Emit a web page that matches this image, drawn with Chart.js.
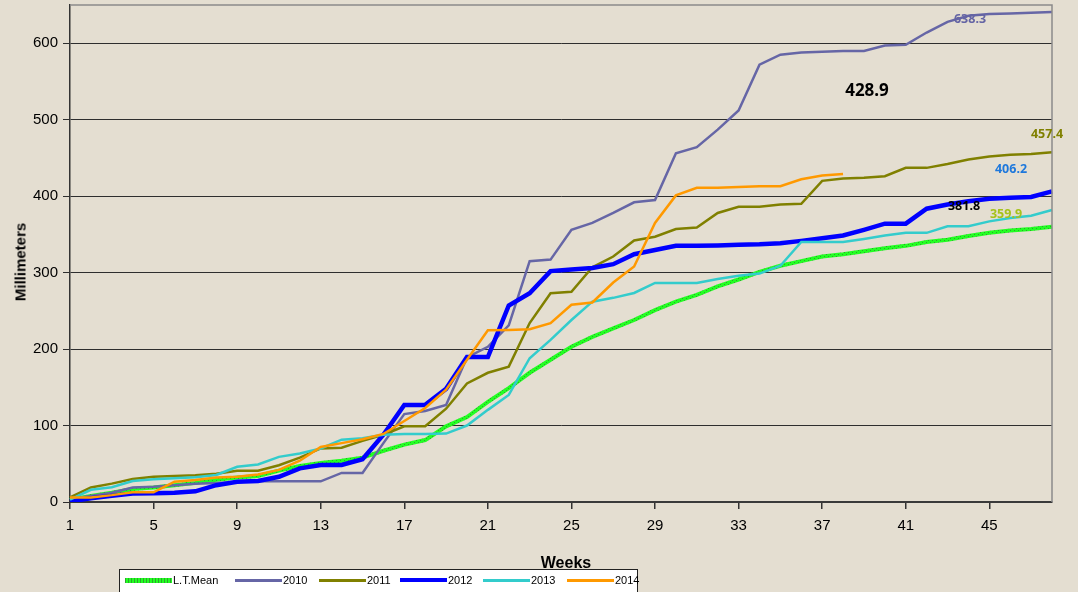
<!DOCTYPE html>
<html><head><meta charset="utf-8">
<script src="https://cdn.jsdelivr.net/npm/chart.js@4.4.0/dist/chart.umd.min.js"></script>
<style>
html,body{margin:0;padding:0;background:#e4ded1;}
#wrap{position:relative;width:1078px;height:592px;overflow:hidden;background:#e4ded1;font-family:"Liberation Sans",Arial,sans-serif;}
#c{position:absolute;left:0;top:0;}
.t{position:absolute;white-space:nowrap;transform:translate(-50%,-50%);}
.dl{font-family:"Noto Sans","Open Sans",sans-serif;font-weight:bold;font-size:12.5px;line-height:1;}
#legend{position:absolute;left:119px;top:569px;width:519px;height:28px;background:#fff;border:1.5px solid #222;box-sizing:border-box;font-size:11px;color:#000;}
.li{position:absolute;top:3px;display:flex;align-items:center;height:14px;}
.sw{width:47px;margin-right:1px;}
</style></head>
<body><div id="wrap">
<canvas id="c" width="1078" height="592"></canvas>
<div class="t" style="left:20px;top:262px;transform:translate(-50%,-50%) rotate(-90deg);font-weight:bold;font-size:15px;">Millimeters</div>
<div class="t" style="left:566px;top:563px;font-weight:bold;font-size:16px;">Weeks</div>
<div class="t dl" style="left:970px;top:19px;color:#6464a4;">638.3</div>
<div class="t dl" style="left:867px;top:89px;color:#000;font-size:17px;">428.9</div>
<div class="t dl" style="left:1047px;top:134px;color:#808000;">457.4</div>
<div class="t dl" style="left:1011px;top:169px;color:#1e78dc;">406.2</div>
<div class="t dl" style="left:964px;top:206px;color:#000;">381.8</div>
<div class="t dl" style="left:1006px;top:214px;color:#a6c21a;">359.9</div>
<div id="legend"></div>
</div>
<script>
// ---- data ----
const weeks = ['1','2','3','4','5','6','7','8','9','10','11','12','13','14','15','16','17','18','19','20','21','22','23','24','25','26','27','28','29','30','31','32','33','34','35','36','37','38','39','40','41','42','43','44','45','46','47','48'];
const xTickLabels = ['1','5','9','13','17','21','25','29','33','37','41','45'];
const yTicks = [0,100,200,300,400,500,600];
const seriesNames = ['L.T.Mean','2010','2011','2012','2013','2014'];
const ltMean = [3,8,12,17,19,22,25,29,32,34,41,47,51,54,58,67,75,81,99,111,131,149,169,186,203,216,227,238,251,262,271,282,291,301,309,315,321,324,328,332,335,340,343,348,352,355,357,359.9];
const y2010 = [4,8,12,19,20,22,24,25,26,27,27,27,27,38,38,77,115,119,127,189,203,231,315,317,356,365,378,392,395,456,464,487,512,572,585,588,589,590,590,597,598,614,628,636,638.3,639,640,641];
const y2011 = [6,19,24,30,33,34,35,37,41,41,48,58,70,71,80,88,99,99,122,155,169,177,234,273,275,307,321,342,347,357,359,378,386,386,389,390,420,423,424,426,437,437,442,448,452,454,455,457.4];
const y2012 = [0.5,5,8,11,11.5,12,14,22,26.5,27.5,33,44,48.5,48.5,56,88,127,127,148,189.6,189.6,257,273,302,304,306,311,324,329.5,335,335,335.5,336.5,337,338.5,341.5,345,348.5,356,364,364,383.6,389,393.4,396.5,397.8,399,406.2];
const y2013 = [3,16,19.3,27.5,29.7,31,32.4,35.4,46,49,59,63.5,70,81.5,83.4,88,89,89,89.5,100,120.5,140,188,212,238,262,267,273.4,286.5,286.5,286.5,291.7,296,298.7,309,340,340,340,344,348.5,352,352,360.7,360.7,367,371.5,374.5,381.8];
const y2014 = [6,6,9,12.7,12.7,26.6,28.8,32,33,36,42,54,72,77,82,89,106,123,147,186,224.5,225,226,234,258,261,287,308,365,401,411,411,412,413,413,422,427,428.9,null,null,null,null,null,null,null,null,null,null];
const seriesValues = [ltMean,y2010,y2011,y2012,y2013,y2014];

// ---- styles ----
const canvas = document.getElementById('c');
const ctx = canvas.getContext('2d');
function greenPattern(){
  const p=document.createElement('canvas');p.width=4;p.height=4;
  const g=p.getContext('2d');
  g.fillStyle='#22ff22';g.fillRect(0,0,4,4);
  g.fillStyle='#2aa82a';g.fillRect(0,0,1,1);g.fillRect(2,2,1,1);
  return ctx.createPattern(p,'repeat');
}
const seriesColors = [greenPattern(),'#6666a6','#808000','#0000ff','#33cccc','#ff9900'];
const legendColors = ['#22ff22','#6666a6','#808000','#0000ff','#33cccc','#ff9900'];
const seriesWidths = [4,2.5,2.5,4.5,2.5,2.5];
const legendLeft = [5,115,199,280,363,447];

const FONT = '"Liberation Sans", Arial, sans-serif';
const borderPlugin = {
  id:'borders',
  afterDatasetsDraw(chart){
    const a=chart.chartArea, c=chart.ctx;
    c.save();c.strokeStyle='#8a8a8a';c.lineWidth=1.5;
    c.beginPath();c.moveTo(a.left,a.top);c.lineTo(a.right,a.top);c.lineTo(a.right,a.bottom);c.stroke();
    c.restore();
  }
};

new Chart(ctx,{
  type:'line',
  data:{
    labels:weeks,
    datasets:seriesNames.map((n,i)=>({
      label:n,data:seriesValues[i],borderColor:seriesColors[i],backgroundColor:legendColors[i],
      borderWidth:seriesWidths[i],pointRadius:0,tension:0,fill:false,spanGaps:false,order:6-i
    }))
  },
  options:{
    responsive:false,animation:false,
    layout:{padding:{top:5,right:26,left:0,bottom:0}},
    plugins:{legend:{display:false},tooltip:{enabled:false}},
    scales:{
      x:{
        type:'category',offset:false,
        grid:{drawOnChartArea:false,drawTicks:true,tickLength:7,lineWidth:1.5,
          tickColor:(c)=>xTickLabels.includes(weeks[c.index])?'#333':'rgba(0,0,0,0)'},
        border:{color:'#3a3a3a',width:2},
        ticks:{autoSkip:false,maxRotation:0,minRotation:0,color:'#000',padding:8,font:{family:FONT,size:15},
          callback:function(v,i){const l=weeks[i];return xTickLabels.includes(l)?l:'';}},
        afterFit:(s)=>{s.height=90;s.paddingLeft=0;s.paddingRight=0;}
      },
      y:{
        min:0,max:650,
        afterBuildTicks:(s)=>{s.ticks=yTicks.map(v=>({value:v}));},
        grid:{color:'#2e2e2e',lineWidth:1,drawTicks:true,tickLength:7,tickColor:'#2e2e2e'},
        border:{color:'#333',width:1.5},
        ticks:{color:'#000',padding:5,font:{family:FONT,size:15}},
        afterFit:(s)=>{s.width=70;s.paddingTop=0;s.paddingBottom=0;}
      }
    }
  },
  plugins:[borderPlugin]
});

// ---- legend ----
const lg=document.getElementById('legend');
seriesNames.forEach((n,i)=>{
  const it=document.createElement('div');it.className='li';it.style.left=legendLeft[i]+'px';
  const sw=document.createElement('div');sw.className='sw';
  if(i===0){sw.style.height='5px';sw.style.background='repeating-linear-gradient(90deg,#2aa82a 0 1px,#22ff22 1px 3px)';}
  else{sw.style.height=(i===3?'4px':'3px');sw.style.background=legendColors[i];}
  const tx=document.createElement('span');tx.textContent=n;
  it.appendChild(sw);it.appendChild(tx);lg.appendChild(it);
});
</script>
</body></html>
